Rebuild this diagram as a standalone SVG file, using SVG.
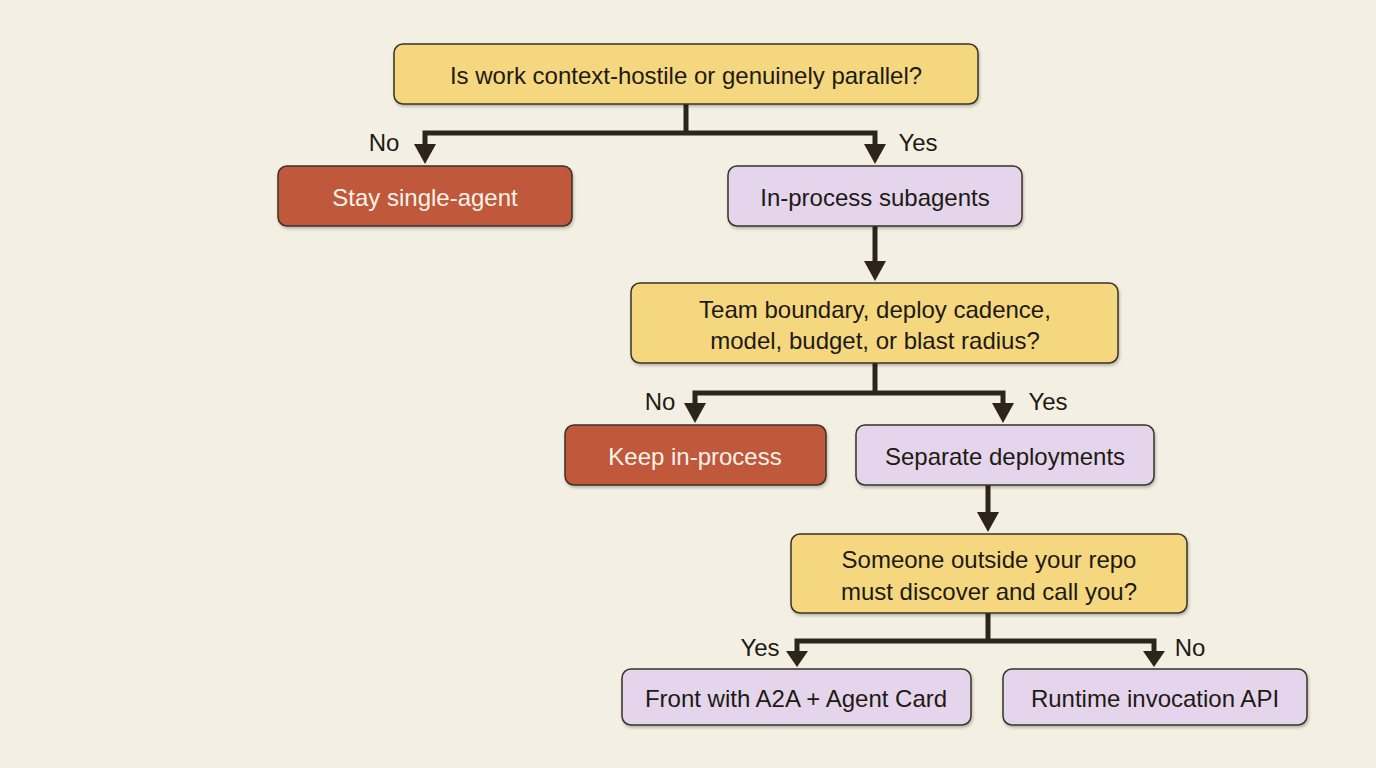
<svg xmlns="http://www.w3.org/2000/svg" width="1376" height="768" viewBox="0 0 1376 768">
<defs>
<filter id="sh" x="-5%" y="-10%" width="110%" height="130%"><feDropShadow dx="1" dy="2" stdDeviation="1.5" flood-color="#000" flood-opacity="0.25"/></filter>
</defs>
<style>
.n rect{stroke:#3a3226;stroke-width:1.5;filter:url(#sh)}
.q rect{fill:#f5d77f}.r rect{fill:#c0583a}.p rect{fill:#e4d5ec}
text{font-family:"Liberation Sans",Arial,sans-serif;font-size:24px;fill:#1e1a14;text-anchor:middle;dominant-baseline:central}
.r text{fill:#fbf3ea}
.c line,.c polyline{stroke:#2e2519;stroke-width:5;fill:none}
.c polygon{fill:#2e2519}
</style>
<rect width="1376" height="768" fill="#f3efe3"/>
<g class="c">
<line x1="686" y1="104" x2="686" y2="133"/>
<polyline points="425,148 425,133 875,133 875,148"/>
<polygon points="414,144 436,144 425,164"/><polygon points="864,144 886,144 875,164"/>
<line x1="875" y1="226" x2="875" y2="265"/>
<polygon points="864,261 886,261 875,281"/>
<line x1="875" y1="363" x2="875" y2="393"/>
<polyline points="695,407 695,393 1003,393 1003,407"/>
<polygon points="684,403 706,403 695,423"/><polygon points="992,403 1014,403 1003,423"/>
<line x1="988" y1="485" x2="988" y2="516"/>
<polygon points="977,512 999,512 988,532"/>
<line x1="988" y1="613" x2="988" y2="641"/>
<polyline points="797,655 797,641 1154,641 1154,655"/>
<polygon points="786,651 808,651 797,667"/><polygon points="1143,651 1165,651 1154,667"/>
<text x="384" y="142">No</text><text x="918" y="142">Yes</text>
<text x="660" y="401">No</text><text x="1048" y="401">Yes</text>
<text x="760" y="647">Yes</text><text x="1190" y="647">No</text>
</g>
<g id="n1" class="n q"><rect x="394" y="44" width="584" height="60" rx="9"/><text x="686" y="75">Is work context-hostile or genuinely parallel?</text></g>
<g id="n2" class="n r"><rect x="278" y="166" width="294" height="60" rx="9"/><text x="425" y="197">Stay single-agent</text></g>
<g id="n3" class="n p"><rect x="728" y="166" width="294" height="60" rx="9"/><text x="875" y="197">In-process subagents</text></g>
<g id="n4" class="n q"><rect x="631" y="283" width="487" height="80" rx="9"/><text x="875" y="309">Team boundary, deploy cadence,</text><text x="875" y="340">model, budget, or blast radius?</text></g>
<g id="n5" class="n r"><rect x="565" y="425" width="261" height="60" rx="9"/><text x="695" y="456">Keep in-process</text></g>
<g id="n6" class="n p"><rect x="856" y="425" width="298" height="60" rx="9"/><text x="1005" y="456">Separate deployments</text></g>
<g id="n7" class="n q"><rect x="791" y="534" width="396" height="79" rx="9"/><text x="989" y="559">Someone outside your repo</text><text x="989" y="591">must discover and call you?</text></g>
<g id="n8" class="n p"><rect x="622" y="669" width="349" height="56" rx="9"/><text x="796" y="698">Front with A2A + Agent Card</text></g>
<g id="n9" class="n p"><rect x="1003" y="669" width="304" height="56" rx="9"/><text x="1155" y="698">Runtime invocation API</text></g>
</svg>
